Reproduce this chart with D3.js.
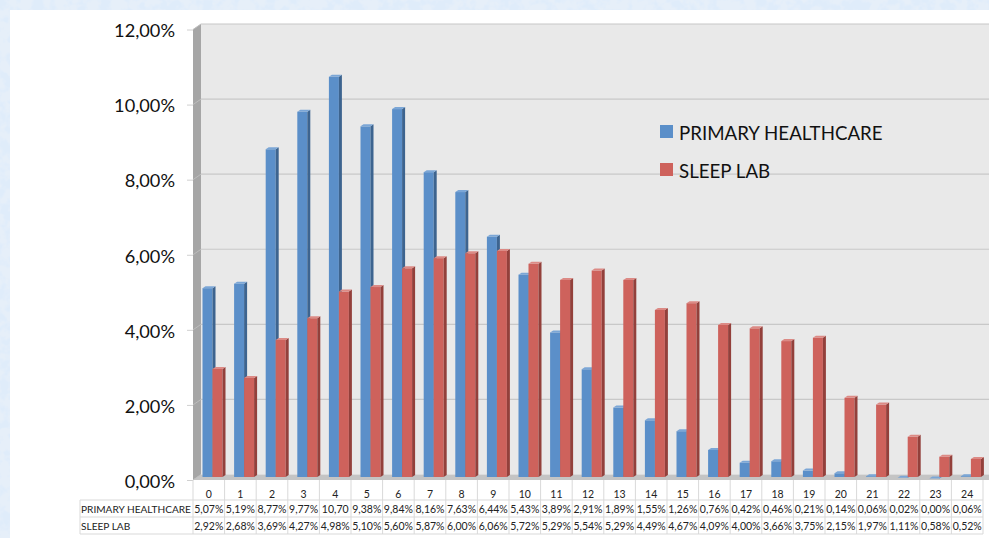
<!DOCTYPE html>
<html>
<head>
<meta charset="utf-8">
<script src="https://cdn.jsdelivr.net/npm/d3@7"></script>
<style>
    html, body { margin: 0; padding: 0; background: #fff; overflow: hidden; }
    svg { display: block; font-family: Lato, "Open Sans", sans-serif; }
</style>
</head>
<body>
<svg width="989" height="538"></svg>
<script>
const hours = ["0","1","2","3","4","5","6","7","8","9","10","11","12","13","14","15","16","17","18","19","20","21","22","23","24"];
const seriesNames = ["PRIMARY HEALTHCARE", "SLEEP LAB"];
const primary = [5.07,5.19,8.77,9.77,10.70,9.38,9.84,8.16,7.63,6.44,5.43,3.89,2.91,1.89,1.55,1.26,0.76,0.42,0.46,0.21,0.14,0.06,0.02,0.00,0.06];
const sleepLab = [2.92,2.68,3.69,4.27,4.98,5.10,5.60,5.87,6.00,6.06,5.72,5.29,5.54,5.29,4.49,4.67,4.09,4.00,3.66,3.75,2.15,1.97,1.11,0.58,0.52];
const yTicks = [0, 2, 4, 6, 8, 10, 12];

const colours = ["#5b8fc9", "#ce625c"];
const sideColours = ["#3d648f", "#93403b"];
const capColours = ["#7ba6d6", "#dc8a85"];

//general layout information
const plotLeft = 193, plotRight = 983, plotTop = 29.5, plotBottom = 480;
const depth = 8; //how far the back wall sits from the front plane
const rise = 5.5;
const barBase = 1.5; //bars stand a little behind the front edge
const barSide = 3;

const svg = d3.select("svg");
const pct = d3.format(".2f");
const comma = (v) => pct(v).replace(".", ",");

const x = d3.scaleBand().domain(hours).range([plotLeft, plotRight]);
const y = d3.scaleLinear().domain([0, 12]).range([plotBottom, plotTop]);
const inner = d3.scaleBand().domain([0, 1]).range([9.5, 29.5]);

//page background with a soft mottled texture
const defs = svg.append("defs");
const tex = defs.append("filter").attr("id", "tex").attr("x", 0).attr("y", 0).attr("width", "100%").attr("height", "100%");
tex.append("feTurbulence").attr("type", "fractalNoise").attr("baseFrequency", 0.09).attr("numOctaves", 3).attr("seed", 4);
tex.append("feColorMatrix").attr("type", "matrix")
    .attr("values", "0 0 0 0 0.74  0 0 0 0 0.84  0 0 0 0 0.96  5 0 0 0 -2.1");
svg.append("rect").attr("width", 989).attr("height", 538).attr("fill", "#e6eff9");
svg.append("rect").attr("width", 989).attr("height", 538).attr("filter", "url(#tex)");
svg.append("rect").attr("x", 10).attr("y", 10).attr("width", 979).attr("height", 528).attr("fill", "#fff");

//back wall, side wall and floor
svg.append("rect")
    .attr("x", plotLeft + depth).attr("y", plotTop - rise)
    .attr("width", 989 - plotLeft - depth).attr("height", plotBottom - plotTop)
    .attr("fill", "#e9e9e9");
svg.append("path")
    .attr("d", d3.line()([[plotLeft, plotTop], [plotLeft + depth, plotTop - rise], [plotLeft + depth, plotBottom - rise], [plotLeft, plotBottom]]) + "Z")
    .attr("fill", "#a6a6a6");
svg.append("path")
    .attr("d", d3.line()([[plotLeft, plotBottom], [plotLeft + depth, plotBottom - rise], [989, plotBottom - rise], [989, plotBottom]]) + "Z")
    .attr("fill", "#c4c4c4");

//gridlines
const grid = svg.append("g");
grid.selectAll("line").data(yTicks.slice(1)).enter().append("line")
    .attr("x1", plotLeft + depth).attr("x2", 989)
    .attr("y1", (d) => y(d) - rise).attr("y2", (d) => y(d) - rise)
    .attr("stroke", "#c8c8c8").attr("stroke-width", 1.2);
grid.selectAll("path").data(yTicks).enter().append("path")
    .attr("d", (d) => d3.line()([[plotLeft, y(d)], [plotLeft + depth, y(d) - rise]]))
    .attr("stroke", "#bdbdbd").attr("fill", "none");

//y axis
const yAxis = svg.append("g")
    .attr("transform", "translate(" + plotLeft + ",0)")
    .call(d3.axisLeft(y).tickValues(yTicks).tickSize(6).tickPadding(12).tickFormat((d) => comma(d) + "%"));
yAxis.select(".domain").remove();
yAxis.selectAll("line").attr("stroke", "#d0d0d0");
yAxis.selectAll("text")
    .attr("font-family", "Lato, 'Open Sans', sans-serif")
    .attr("font-size", 18.2).attr("fill", "#111").attr("dy", "0.4em");

//bars: one group per series, blue first so the red overlaps it
[primary, sleepLab].forEach(function (values, s) {
    const g = svg.append("g").attr("class", "series" + s);
    const bars = g.selectAll("g").data(values).enter().append("g")
        .attr("transform", (d, i) => "translate(" + (x(hours[i]) + inner(s)) + ",0)");
    const w = inner.bandwidth();
    const base = (d) => plotBottom - 3;
    const topY = (d) => y(d) - barBase;
    bars.append("rect")
        .attr("x", 0).attr("y", topY)
        .attr("width", w).attr("height", (d) => Math.max(0, base(d) - topY(d)))
        .attr("fill", colours[s]);
    bars.append("path")
        .attr("d", (d) => d3.line()([[w, topY(d)], [w + barSide, topY(d) - 2], [w + barSide, base(d) - 2], [w, base(d)]]) + "Z")
        .attr("fill", sideColours[s]);
    bars.append("path")
        .attr("d", (d) => d3.line()([[0, topY(d)], [barSide, topY(d) - 2], [w + barSide, topY(d) - 2], [w, topY(d)]]) + "Z")
        .attr("fill", capColours[s]);
});

//legend
const legend = svg.append("g");
seriesNames.forEach(function (name, i) {
    const ly = 131 + i * 38;
    legend.append("rect").attr("x", 660).attr("y", ly - 6).attr("width", 13).attr("height", 13).attr("fill", colours[i]);
    legend.append("text").attr("x", 679).attr("y", ly + 9).attr("font-size", 18.7).attr("fill", "#111").text(name);
});

//data table under the axis
const rowY = [500, 517, 534];
const table = svg.append("g").attr("stroke", "#d9d9d9").attr("stroke-width", 1);
table.selectAll(".v").data(d3.range(hours.length + 1)).enter().append("line")
    .attr("x1", (i) => plotLeft + i * x.bandwidth()).attr("x2", (i) => plotLeft + i * x.bandwidth())
    .attr("y1", plotBottom).attr("y2", rowY[2]);
table.append("line").attr("x1", 80).attr("x2", 80).attr("y1", rowY[0]).attr("y2", rowY[2]);
rowY.forEach(function (ry) {
    table.append("line").attr("x1", 80).attr("x2", plotRight).attr("y1", ry).attr("y2", ry);
});

const cells = svg.append("g").attr("font-size", 10.5).attr("fill", "#222");
cells.selectAll(".hour").data(hours).enter().append("text")
    .attr("x", (d) => x(d) + x.bandwidth() / 2).attr("y", 498)
    .attr("text-anchor", "middle").text((d) => d);
[primary, sleepLab].forEach(function (values, s) {
    cells.append("text").attr("x", 81).attr("y", rowY[s] + 13).attr("font-size", 10.1).text(seriesNames[s]);
    cells.selectAll(".row" + s).data(values).enter().append("text")
        .attr("class", "row" + s)
        .attr("x", (d, i) => x(hours[i]) + x.bandwidth() / 2)
        .attr("y", rowY[s] + 13)
        .attr("text-anchor", "middle")
        //the cell is too narrow for 10,70% so the source cuts the sign off
        .text((d) => (d >= 10 ? comma(d) : comma(d) + "%"));
});
</script>
</body>
</html>
